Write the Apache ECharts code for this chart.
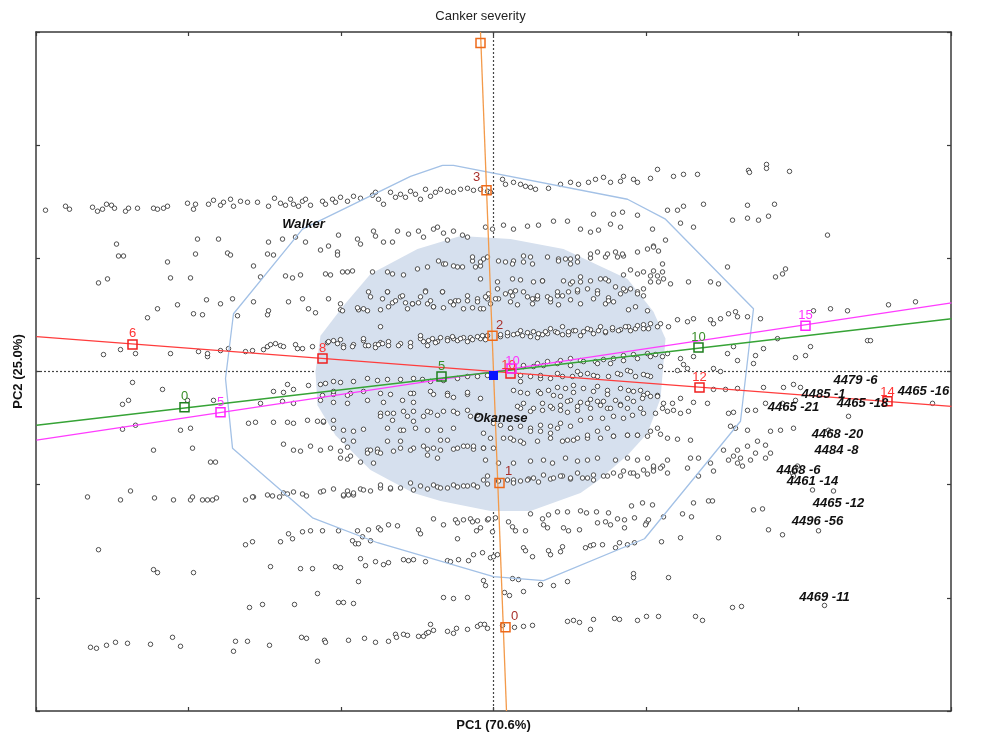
<!DOCTYPE html>
<html>
<head>
<meta charset="utf-8">
<script src="https://cdn.jsdelivr.net/npm/echarts@6/dist/echarts.min.js"></script>
<style>
	html, body { margin: 0; padding: 0; background: #fff; }
	#chart { width: 985px; height: 737px; }
</style>
</head>
<body>
<div id="chart"></div>
<script>
// scores (PC1, PC2), grouped by horizontal band
const scoresTop = [
	[-448,162],[-428,166],[-424,163],[-401,165],[-396,161],[-391,163],[-387,168],[-382,167],[-379,164],[-368,161],
	[-365,164],[-356,164],[-340,164],[-336,163],[-330,164],[-326,166],[-306,169],[-300,163],[-298,168],[-285,168],
	[-280,172],[-273,167],[-270,170],[-263,173],[-260,166],[-253,171],[-246,170],[-236,170],[-225,166],[-219,174],
	[-213,169],[-208,167],[-203,173],[-200,168],[-195,166],[-191,171],[-188,173],[-183,167],[-171,171],[-168,168],
	[-161,173],[-158,170],[-153,175],[-146,171],[-140,176],[-133,174],[-121,177],[-118,180],[-115,173],[-110,168],
	[-103,180],[-98,175],[-93,178],[-88,175],[-83,181],[-78,178],[-73,173],[-68,183],[-63,176],[-58,180],
	[-53,183],[-46,181],[-40,180],[-33,183],[-26,184],[-20,182],[-13,183],[-6,181],[-3,180],[9,193],
	[12,188],[20,190],[27,188],[32,186],[37,185],[42,183],[55,184],[67,188],[77,190],[85,188],
	[95,190],[102,193],[110,195],[117,190],[127,191],[130,196],[140,193],[144,190],[157,194],[164,203],
	[180,196],[190,198],[204,198],[255,202],[256,200],[273,208],[273,204],[296,201],
	[174,162],[184,162],[190,166],[210,168],[254,167],[281,168],[239,152],[254,154],[265,152],[275,156],
	[334,137],[200,145],[187,149],[172,132],[160,126],[10,147],[20,143],[34,146],[45,147],[60,151],
	[74,151],[87,143],[100,158],[120,158],[129,160],[144,157],[159,143],[97,140],[105,142],[117,148],
	[127,145],[-377,128],[-296,133],[-275,133],[-225,130],[-211,133],[-198,135],[-188,130],[-165,126],[-155,137],
	[-136,133],[-133,128],[-120,141],[-118,136],[-110,130],[-101,130],[-96,141],[-85,138],[-75,141],[-70,135],
	[-60,143],[-56,145],[-50,139],[-46,132],[-40,141],[-31,137],[-26,135],[-8,145],[-1,143]
];
const scoresUpper = [
	[-375,116],[-370,116],[-326,110],[-298,118],[-266,119],[-263,117],[-226,118],[-220,117],[-173,122],[-156,120],
	[-156,117],[-395,89],[-386,93],[-323,94],[-303,94],[-240,106],[-233,95],[-208,96],[-201,94],[-193,97],
	[-168,98],[-163,97],[-151,100],[-146,100],[-141,101],[-121,100],[-106,100],[-101,98],[-90,97],[-76,103],
	[-66,105],[-50,108],[-36,105],[-21,111],[-13,106],[-125,80],[-106,80],[-93,75],[-68,81],[-51,80],
	[-38,71],[-26,71],[-16,73],[-6,73],[5,73],[-153,68],[-346,54],[-336,63],[-316,67],[-300,58],
	[-291,57],[-287,72],[-273,68],[-261,73],[-256,56],[-240,70],[-226,57],[-225,61],[-205,70],[-191,73],
	[-185,63],[-178,59],[-165,73],[-153,62],[-135,62],[-126,61],[-113,62],[-101,69],[-88,69],[-81,68],
	[-75,69],[-66,68],[-60,65],[-50,64],[-40,67],[-30,63],[-21,64],[-13,63],
	[-6,115],[5,111],[20,111],[30,116],[37,115],[54,115],[65,113],[77,113],[84,110],[97,114],
	[112,115],[124,115],[130,116],[-13,93],[4,90],[19,93],[27,92],[40,90],[49,91],[70,91],
	[77,88],[87,90],[97,91],[107,93],[115,91],[130,97],[137,102],[144,98],[150,100],[157,96],
	[160,101],[169,108],[170,93],[165,90],[177,88],[195,90],[217,90],[225,88],[234,105],[282,95],
	[289,98],[292,103],[-5,78],[12,78],[19,76],[34,75],[42,73],[54,75],[64,76],[75,80],
	[84,80],[104,81],[115,74],[127,78],[132,81],[144,80],[150,76],[-10,63],[-3,68],[17,70],
	[24,67],[39,68],[44,73],[57,70],[65,67],[77,72],[87,68],[100,73],[112,68],[120,70],
	[135,62],[142,65],[154,61],[395,67],[422,70],[337,63],[354,61],[320,61],[284,33],[374,31],[377,31]
];
const scoresCentre = [
	[-390,17],[-373,22],[-358,18],[-323,18],[-295,20],[-286,15],[-286,18],[-273,21],[-265,23],[-248,20],
	[-241,21],[-230,22],[-226,25],[-223,27],[-218,28],[-213,26],[-198,27],[-191,23],[-181,25],[-166,29],
	[-160,31],[-150,26],[-140,27],[-128,26],[-118,27],[-113,29],[-105,30],[-93,28],[-83,29],[-73,33],
	[-65,31],[-56,30],[-46,33],[-40,33],[-30,34],[-23,34],[-13,33],[-6,36],[7,35],[-130,31],
	[-153,32],[-210,25],[-196,23],
	[14,36],[24,38],[29,36],[37,35],[44,34],[49,37],[54,38],[62,40],[69,37],[75,37],
	[80,41],[90,40],[97,42],[105,41],[112,39],[119,42],[127,42],[135,45],[142,43],[150,47],
	[155,43],[167,48],[175,45],[184,52],[194,50],[200,53],[217,52],[220,48],[227,53],[235,58],
	[244,55],[254,55],[242,60],[267,53],[270,23],[262,16],[240,25],[234,18],[244,11],[260,8],
	[220,3],[227,0],[302,14],[312,16],[317,25],
	[30,5],[44,8],[54,10],[67,11],[77,13],[87,11],[102,10],[110,12],[120,13],[130,16],
	[140,17],[154,18],[162,17],[169,15],[174,18],[187,13],[200,15],[167,5],[184,1],[194,3],
	[190,7],[-185,-14],[-173,-13],[-168,-12],[-160,-10],[-153,-11],[-140,-10],[-126,-7],[-116,-9],[-106,-8],
	[-93,-8],[-80,-7],[-71,-8],[-63,-10],[-50,-9],[-36,-7],[-26,-5],[-16,-5],[-6,-4],[-361,-11],
	[-331,-18],[27,-10],[37,-5],[47,-7],[57,-7],[69,-5],[79,-5],[87,-3],[94,-2],[104,-5],
	[115,-5],[127,-3],[134,1],[142,-5],[150,-3],[157,-5],
	[-220,-20],[-210,-21],[-200,-18],[-206,-13],[-171,-24],[-160,-23],[-143,-22],[-130,-20],[-103,-23],[-80,-22],
	[-60,-23],[-46,-22],[-40,-26],[-26,-23],[-13,-27],[-371,-33],[-365,-29],[-306,-29],[-280,-29],[-233,-32],
	[-211,-30],[-200,-32],[-173,-29],[-160,-31],[-146,-32],[-126,-29],[-110,-31],[-91,-29],[-80,-31],[-113,-42],
	[-100,-42],[-86,-45],[-70,-45],[-63,-41],[-50,-40],[-36,-42],[-23,-45],
	[20,-19],[34,-22],[45,-20],[55,-19],[64,-16],[72,-17],[80,-14],[90,-17],[104,-15],[114,-19],
	[127,-17],[135,-19],[147,-19],[220,-18],[232,-18],[244,-17],[270,-16],[290,-16],[300,-13],[307,-16],
	[67,-25],[77,-29],[87,-31],[97,-28],[110,-30],[122,-29],[134,-27],[150,-24],[164,-24],[170,-32],
	[179,-32],[187,-27],[200,-31],[214,-32],[27,-37],[37,-40],[49,-39],[59,-37],[67,-39],[74,-41],
	[84,-39],[97,-37],[107,-34],[114,-37],[127,-33],[134,-37],[147,-37],[272,-32],[289,-32],[302,-29],
	[439,-32],[355,-45],[335,-59],[235,-42],[240,-41],[254,-39],[262,-39],[237,-55],[242,-57],[254,-59],
	[169,-37],[174,-40],[180,-39],[187,-42],[195,-40]
];
const scoresLower = [
	[-245,-52],[-238,-51],[-220,-51],[-206,-51],[-200,-52],[-186,-49],[-176,-50],[-170,-51],[-160,-57],[-150,-59],
	[-140,-60],[-130,-58],[-106,-57],[-93,-59],[-78,-57],[-66,-59],[-53,-59],[-40,-57],[-313,-59],[-303,-57],
	[-371,-58],[-358,-54],[0,-52],[17,-57],[27,-55],[37,-57],[47,-54],[57,-55],[67,-52],[77,-55],
	[87,-49],[97,-47],[109,-47],[120,-45],[130,-47],[139,-44],[150,-42],[162,-42],[-3,-67],[10,-67],
	[20,-69],[30,-72],[44,-70],[57,-67],[69,-70],[80,-69],[94,-67],[107,-67],[120,-65],[134,-64],
	[144,-64],[154,-65],[167,-63],[174,-67],[184,-68],[197,-69],[230,-79],[244,-79],[254,-75],[272,-74],
	[264,-70],[277,-60],[287,-59],[300,-57],
	[-340,-79],[-301,-77],[-283,-91],[-278,-91],[-210,-73],[-200,-79],[-193,-80],[-183,-75],[-173,-79],[-163,-77],
	[-153,-80],[-146,-76],[-126,-79],[-116,-78],[-100,-80],[-93,-77],[-80,-77],[-66,-78],[-53,-79],[-40,-78],
	[-26,-75],[-20,-78],[-10,-77],[-146,-88],[-133,-91],[-120,-92],[-8,-89],[5,-92],[20,-92],[37,-90],
	[50,-89],[59,-92],[72,-87],[84,-90],[94,-89],[104,-87],[122,-89],[134,-87],[144,-89],[154,-87],
	[160,-97],[169,-95],[174,-89],[197,-87],[205,-87],[217,-92],[235,-89],[244,-92],[249,-95],[240,-85],
	[-363,-120],[-240,-126],[-226,-124],[-210,-122],[-200,-121],[-191,-123],[-173,-121],[-160,-118],[-146,-120],[-133,-118],
	[-123,-120],[-113,-117],[-103,-118],[-93,-117],[-80,-119],[-66,-118],[-56,-116],[-46,-117],[-36,-116],[-26,-115],
	[-16,-116],[-6,-113],[-6,-105],[5,-110],[20,-109],[35,-108],[45,-111],[57,-108],[69,-105],[77,-108],
	[89,-107],[100,-109],[114,-105],[127,-105],[137,-102],[144,-105],[154,-103],[160,-100],[174,-102],[194,-97],
	[205,-105],[220,-100],[247,-87],[257,-89],[262,-82],[272,-87],[277,-82],[299,-102],[300,-105],[304,-95],
	[340,-120],[319,-119],[-406,-126],[-373,-129],[-339,-127],[-320,-129],[-303,-129],[-301,-126],[-291,-129],[-286,-129],
	[-281,-129],[-277,-127],[-248,-129],[-241,-126],[-221,-125],[-214,-126],[-206,-123],[-187,-125],[-170,-120],[-150,-125],
	[-145,-124],[-140,-124]
];
const scoresBottom = [
	[37,-143],[49,-148],[55,-144],[64,-141],[74,-141],[87,-140],[93,-142],[103,-141],[115,-142],[124,-148],
	[131,-149],[141,-147],[138,-135],[149,-132],[159,-134],[170,-146],[153,-152],[155,-149],[189,-143],[198,-146],
	[200,-132],[215,-130],[219,-130],[260,-139],[269,-138],[-13,-157],[-6,-149],[2,-147],[15,-151],[19,-156],
	[22,-160],[32,-160],[50,-154],[54,-157],[70,-157],[75,-160],[86,-159],[104,-152],[112,-151],[117,-154],
	[131,-157],[152,-154],[275,-159],[289,-164],[325,-160],[225,-167],[187,-167],[168,-171],
	[-60,-148],[-50,-154],[-38,-149],[-36,-152],[-30,-149],[-23,-148],[-21,-151],[-16,-150],[-5,-148],[-75,-159],
	[-73,-163],[-248,-174],[-241,-171],[-213,-171],[-205,-163],[-201,-168],[-191,-161],[-183,-160],[-171,-160],[-155,-160],
	[-141,-170],[-138,-173],[-135,-173],[-136,-160],[-131,-166],[-123,-170],[-125,-159],[-115,-157],[-113,-159],[-105,-154],
	[-96,-155],[-36,-168],[-17,-160],[-1,-161],
	[-395,-179],[-223,-196],[-193,-198],[-181,-198],[-158,-196],[-153,-197],[-135,-211],[-133,-188],[-128,-195],[-118,-191],
	[-110,-194],[-105,-192],[-90,-189],[-85,-190],[-80,-189],[-68,-191],[-46,-190],[-43,-191],[-35,-189],[-25,-190],
	[-20,-184],[-11,-182],[-3,-187],[4,-184],[-340,-199],[-336,-202],[-300,-202],[30,-177],[32,-180],[39,-186],
	[55,-180],[57,-184],[67,-181],[69,-176],[92,-177],[97,-175],[100,-174],[109,-174],[122,-177],[126,-172],
	[134,-174],[141,-172],[0,-186],[19,-208],[25,-209],[47,-214],[60,-215],[74,-211],[140,-207],[140,-203],
	[175,-207],[-8,-215],[30,-221],[11,-222],[16,-225],
	[-176,-223],[-10,-210],[-50,-227],[-40,-228],[-26,-227],[-244,-237],[-231,-234],[-199,-234],[-155,-232],[-150,-232],
	[-140,-233],
	[-403,-277],[-397,-278],[-387,-275],[-378,-272],[-366,-273],[-343,-274],[-321,-267],[-313,-276],[-260,-281],[-258,-271],
	[-246,-271],[-224,-275],[-192,-267],[-187,-268],[-169,-270],[-168,-272],[-176,-291],[-145,-270],[-129,-268],[-118,-272],
	[-105,-271],[-98,-264],[-97,-267],[-90,-264],[-86,-265],[-75,-266],[-70,-266],[-67,-263],[-63,-254],[-65,-262],
	[-60,-260],[-46,-261],[-40,-263],[-37,-258],[-26,-259],[-16,-256],[-13,-254],[-9,-254],[-6,-258],[9,-255],
	[21,-257],[30,-256],[39,-255],[74,-251],[80,-250],[86,-252],[97,-259],[100,-249],[121,-248],[126,-249],
	[144,-250],[153,-246],[165,-246],[202,-246],[209,-250],[239,-237],[248,-236],[331,-235]
];
// extra scores inside the shaded core, where the cloud is densest
const scoresCore = [
	[-55,111],[-48,108],[-40,106],[-31,105],[-21,115],[-18,105],[-13,110],[-10,113],
	[-123,75],[-111,73],[-106,80],[-105,65],[-98,71],[-91,76],[-86,63],[-81,68],[-73,75],[-68,80],
	[-63,71],[-60,65],[-51,80],[-43,70],[-35,71],[-26,76],[-16,70],[-8,75],[-130,63],[-136,64],[-151,61],
	[-165,30],[-156,28],[-150,24],[-141,25],[-130,33],[-125,26],[-118,24],[-115,27],[-111,28],[-105,26],
	[-95,26],[-83,25],[-73,36],[-70,30],[-66,26],[-61,33],[-58,29],[-53,34],[-46,31],[-41,35],
	[-36,31],[-33,33],[-26,30],[-21,32],[-16,35],[-11,36],[-8,32],[-113,45],
	[12,110],[19,108],[30,110],[39,108],[65,111],[72,113],[77,108],[84,115],[97,118],[104,120],
	[114,118],[122,120],[129,118],[144,120],[154,123],[160,125],[165,121],
	[17,80],[22,81],[30,80],[39,73],[44,76],[49,91],[57,73],[64,80],[69,76],[79,90],
	[84,82],[87,95],[94,83],[104,78],[112,93],[115,71],[122,85],[130,83],[137,83],[144,78],
	[150,83],[157,90],[164,96],[169,100],[4,83],[2,73],
	[7,37],[14,39],[20,37],[27,41],[34,39],[40,40],[45,38],[52,40],[57,43],[64,39],
	[69,45],[75,40],[82,41],[87,36],[94,43],[100,38],[107,45],[112,40],[119,44],[125,41],
	[132,45],[137,41],[144,46],[150,43],[157,48],[164,45],
	[30,6],[40,5],[50,6],[64,8],[77,6],[90,10],[104,8],[117,8],[130,11],[144,13],
	[157,15],[27,-4],[47,-4],[64,-2],[84,0],[100,-4],[124,-2],[137,0],[154,-4],
	[-160,-20],[-146,-24],[-113,-22],[-83,-22],[-63,-20],[-46,-24],[-26,-21],[27,-21],[47,-22],[60,-24],
	[80,-21],[100,-20],[114,-23],[140,-20],[154,-22],[164,-25],
	[-113,-45],[-106,-42],[-101,-49],[-90,-40],[-80,-40],[-66,-40],[-56,-44],[-40,-40],[-26,-39],[-16,-44],
	[24,-35],[30,-32],[40,-37],[49,-32],[57,-35],[67,-34],[74,-30],[84,-35],[94,-32],[104,-30],
	[117,-37],[127,-34],[140,-30],[149,-27],[157,-25],[-160,-49],[-170,-50],[-90,-59],[-80,-50],
	[-150,-69],[-140,-70],[-123,-79],[-116,-81],[-106,-70],[-93,-70],[-83,-79],[-70,-75],[-60,-77],[-53,-69],
	[-46,-69],[-36,-77],[-30,-75],[-20,-75],[-10,-62],[-10,-77],[0,-77],[17,-67],[27,-70],[37,-60],
	[47,-60],[57,-62],[64,-57],[74,-69],[84,-67],[94,-64],[104,-60],[114,-57],[120,-65],[134,-64],
	[144,-64],[157,-60],[164,-57],[17,-57],[7,-54],
	[-153,-87],[-143,-85],[-126,-82],[-113,-82],[-66,-84],[-56,-87],
	[-150,-124],[-140,-122],[-130,-119],[-113,-114],[-103,-117],[-83,-112],[-73,-115],[-60,-114],[-53,-117],[-40,-114],
	[-30,-115],[-20,-114],[-10,-109],[14,-109],[20,-112],[27,-110],[34,-109],[40,-107],[50,-104],[60,-107],
	[67,-105],[77,-107],[84,-102],[94,-107],[100,-104],[110,-105],[120,-102],[130,-100],[140,-102],[150,-99],
	[160,-95],[167,-97]
];

// convex hull of all scores and the shaded central region
const hullPoly = [
	[-51,207],[-40,207],[134,173],[172,153],[260,63],[247,-50],[151,-168],[50,-210],[0,-206],[-116,-172],
	[-181,-147],[-261,-77],[-268,-7],[-260,58],[-191,143],[-83,196],[-51,207]
];
const shadePoly = [
	[-33,136],[17,133],[70,123],[134,93],[160,60],[172,33],[167,-27],[154,-62],[134,-84],[104,-110],
	[87,-122],[37,-140],[-3,-140],[-53,-130],[-80,-122],[-123,-99],[-158,-64],[-176,-34],[-178,0],[-173,36],
	[-150,66],[-123,98],[-76,123]
];

// biplot variable axes: ends of each line, tick markers and tick values
const cankerLine = [[-13,341],[13,-341]];
const cankerTicks = [[-13,330],[-7,182],[-1,36],[6,-112],[12,-257]];
const cankerValues = ['', '3', '2', '1', '0'];
const hLine = [[-457,35],[458,-35]];
const hTicks = [[-361,27],[-171,13],[17,-2],[206,-16],[394,-30]];
const hValues = ['6', '8', '10', '12', '14'];
const dbhLine = [[-457,-69],[458,69]];
const dbhTicks = [[-273,-41],[18,3],[312,46]];
const dbhValues = ['5', '10', '15'];
const maiLine = [[-457,-54],[458,53]];
const maiTicks = [[-309,-36],[-52,-5],[205,24]];
const maiValues = ['0', '5', '10'];
const centre = [[0,-4]];

// named genotypes
const genotypeNames = ['Walker', 'Okanese', '4479 -6', '4465 -16', '4485 -1', '4465 -18', '4465 -21',
	'4468 -20', '4484 -8', '4468 -6', '4461 -14', '4465 -12', '4496 -56', '4469 -11'];
const genotypePos = [[-190,148],[7,-47],[362,-9],[430,-20],[330,-23],[369,-32],[300,-36],
	[344,-63],[343,-79],[305,-99],[319,-110],[345,-133],[324,-151],[331,-227]];

const FONT = '"Liberation Sans", Arial, sans-serif';

function lineSeries( data, color, z ) {
	return {
		type: 'line', data, symbol: 'none', silent: true, z,
		lineStyle: { color, width: 1.3 }
	};
}

function tickSeries( pos, values, color, labelColor, offsets ) {
	return {
		type: 'scatter', symbol: 'rect', symbolSize: 9, z: 6, silent: true,
		data: pos.map( ( p, i ) => ( { value: p, label: { offset: offsets[i] } } ) ),
		itemStyle: { color: 'rgba(0,0,0,0)', borderColor: color, borderWidth: 1.5, opacity: 1 },
		label: {
			show: true, position: 'inside', fontFamily: FONT, fontSize: 13, color: labelColor,
			formatter: p => values[p.dataIndex]
		}
	};
}

function endLabel( point, text, position, distance ) {
	return {
		type: 'scatter', data: [point], symbolSize: 1, z: 7, silent: true,
		itemStyle: { color: 'rgba(0,0,0,0)', opacity: 1 },
		label: { show: true, position, distance, formatter: text, fontFamily: FONT, fontSize: 13, color: '#222' }
	};
}

const axisCommon = {
	type: 'value',
	axisLine: { show: true, onZero: false, lineStyle: { color: '#3a3a3a', width: 1.5 } },
	axisTick: { show: true, inside: true, length: 4, lineStyle: { color: '#3a3a3a', width: 1.2 } },
	axisLabel: { show: false },
	splitLine: { show: false }
};

const xRange = { min: -457.5, max: 457.5, interval: 152.5 };
const yRange = { min: -341, max: 341, interval: 341 / 3 };

const chart = echarts.init( document.getElementById( 'chart' ), null, { renderer: 'canvas' } );

const scoreStyle = {
	type: 'scatter', symbol: 'circle', symbolSize: 4.5, z: 3, silent: true,
	itemStyle: { color: '#ffffff', borderColor: '#3c3c3c', borderWidth: 0.9, opacity: 1 }
};

chart.setOption( {
	animation: false,
	backgroundColor: '#ffffff',
	grid: { left: 36, right: 34, top: 32, bottom: 23 },
	xAxis: [
		Object.assign( {}, axisCommon, xRange, {
			position: 'bottom', name: 'PC1 (70.6%)', nameLocation: 'middle', nameGap: 8,
			nameTextStyle: { fontFamily: FONT, fontWeight: 'bold', fontSize: 13, color: '#111', verticalAlign: 'top' }
		} ),
		Object.assign( {}, axisCommon, xRange, { position: 'top' } )
	],
	yAxis: [
		Object.assign( {}, axisCommon, yRange, {
			position: 'left', name: 'PC2 (25.0%)', nameLocation: 'middle', nameGap: 11,
			nameTextStyle: { fontFamily: FONT, fontWeight: 'bold', fontSize: 13, color: '#111' }
		} ),
		Object.assign( {}, axisCommon, yRange, { position: 'right' } )
	],
	series: [
		// origin reference lines
		{
			type: 'line', data: [[0, 341], [0, -341]], symbol: 'none', silent: true, z: 1,
			lineStyle: { color: '#444', width: 1.2, type: [2, 2] }
		},
		{
			type: 'line', data: [[-457.5, 0], [457.5, 0]], symbol: 'none', silent: true, z: 1,
			lineStyle: { color: '#444', width: 1.2, type: [2, 2] }
		},
		// shaded central region
		{
			type: 'custom', z: 2, silent: true, data: [[0, 0]],
			renderItem: function ( params, api ) {
				return {
					type: 'polygon',
					shape: { points: shadePoly.map( p => api.coord( p ) ) },
					style: { fill: '#d6e0ee' }
				};
			}
		},
		Object.assign( { data: scoresTop }, scoreStyle ),
		Object.assign( { data: scoresUpper }, scoreStyle ),
		Object.assign( { data: scoresCentre }, scoreStyle ),
		Object.assign( { data: scoresLower }, scoreStyle ),
		Object.assign( { data: scoresBottom }, scoreStyle ),
		Object.assign( { data: scoresCore }, scoreStyle ),
		// convex hull
		{
			type: 'line', data: hullPoly, symbol: 'none', silent: true, z: 4,
			lineStyle: { color: '#a3c1e6', width: 1.3 }
		},
		lineSeries( cankerLine, '#f39a4a', 5 ),
		lineSeries( hLine, '#ff3c3c', 5 ),
		lineSeries( dbhLine, '#ff3cff', 5 ),
		lineSeries( maiLine, '#36a336', 5 ),
		tickSeries( cankerTicks, cankerValues, '#ee6a1a', '#a8302c', [[0, 0], [-10, -13], [7, -10], [9, -12], [9, -11]] ),
		tickSeries( hTicks, hValues, '#f02020', '#ff3333', [[0, -11], [0, -10], [-2, -8], [0, -10], [0, -9]] ),
		tickSeries( dbhTicks, dbhValues, '#ff22ff', '#ff33ff', [[0, -10], [1, -7], [0, -10]] ),
		tickSeries( maiTicks, maiValues, '#1f7f1f', '#3a8f2a', [[0, -11], [0, -10], [0, -10]] ),
		{
			type: 'scatter', data: centre, symbol: 'rect', symbolSize: 9, z: 6, silent: true,
			itemStyle: { color: '#0a14ff', opacity: 1 }
		},
		endLabel( cankerLine[0], 'Canker severity', 'top', 9 ),
		endLabel( dbhLine[1], 'DBH', 'right', 8 ),
		endLabel( maiLine[1], 'MAI', 'right', 8 ),
		endLabel( hLine[1], 'H', 'right', 8 ),
		{
			type: 'scatter', symbolSize: 1, z: 7, silent: true,
			data: genotypePos,
			itemStyle: { color: 'rgba(0,0,0,0)', opacity: 1 },
			label: {
				show: true, position: 'inside', fontFamily: FONT, fontSize: 13,
				fontWeight: 'bold', fontStyle: 'italic', color: '#111',
				formatter: p => genotypeNames[p.dataIndex]
			}
		}
	]
} );
</script>
</body>
</html>
